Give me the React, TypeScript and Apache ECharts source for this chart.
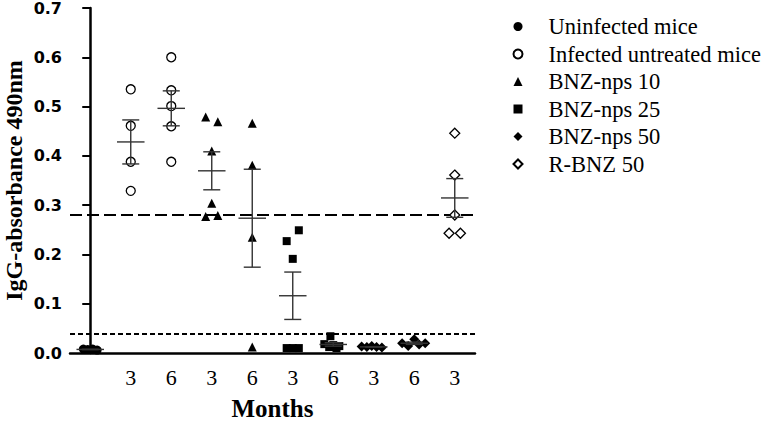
import React, { useEffect, useRef } from 'react';
import * as echarts from 'echarts';

// ---- data ----
const categories = ['', '3', '6', '3', '6', '3', '6', '3', '6', '3'];
const seriesNames = [
  'Uninfected mice',
  'Infected untreated mice',
  'BNZ-nps 10',
  'BNZ-nps 25',
  'BNZ-nps 50',
  'R-BNZ 50',
];
const cutoffHigh = 0.28;
const cutoffLow = 0.04;

const uninfectedValues = [0.008, 0.007, 0.008, 0.006];
const uninfectedJitter = [-0.17, -0.06, 0.06, 0.17];

const infected3Values = [0.535, 0.461, 0.388, 0.329];
const infected3Jitter = [0, 0, 0, 0];
const infected6Values = [0.6, 0.533, 0.501, 0.46, 0.388];
const infected6Jitter = [0, 0, 0, 0, 0];

const bnz10m3Values = [0.479, 0.469, 0.41, 0.304, 0.277, 0.279];
const bnz10m3Jitter = [-0.15, 0.15, 0, 0, -0.15, 0.15];
const bnz10m6Values = [0.466, 0.381, 0.235, 0.012];
const bnz10m6Jitter = [0, 0, 0, 0];

const bnz25m3Values = [0.227, 0.249, 0.191, 0.01, 0.01, 0.01];
const bnz25m3Jitter = [-0.15, 0.15, 0, -0.15, 0, 0.15];
const bnz25m6Values = [0.034, 0.018, 0.016, 0.014, 0.012, 0.01];
const bnz25m6Jitter = [-0.07, -0.22, 0.0, 0.15, -0.1, 0.08];

const bnz50m3Values = [0.013, 0.012, 0.014, 0.012, 0.011];
const bnz50m3Jitter = [-0.3, -0.17, -0.05, 0.07, 0.2];
const bnz50m6Values = [0.02, 0.014, 0.028, 0.017, 0.02];
const bnz50m6Jitter = [-0.3, -0.15, 0, 0.12, 0.27];

const rbnz3Values = [0.446, 0.361, 0.28, 0.243, 0.243];
const rbnz3Jitter = [0, 0, 0, -0.14, 0.14];

type Group = { series: number; pos: number; values: number[]; jitter: number[] };
const groups: Group[] = [
  { series: 0, pos: 0, values: uninfectedValues, jitter: uninfectedJitter },
  { series: 1, pos: 1, values: infected3Values, jitter: infected3Jitter },
  { series: 1, pos: 2, values: infected6Values, jitter: infected6Jitter },
  { series: 2, pos: 3, values: bnz10m3Values, jitter: bnz10m3Jitter },
  { series: 2, pos: 4, values: bnz10m6Values, jitter: bnz10m6Jitter },
  { series: 3, pos: 5, values: bnz25m3Values, jitter: bnz25m3Jitter },
  { series: 3, pos: 6, values: bnz25m6Values, jitter: bnz25m6Jitter },
  { series: 4, pos: 7, values: bnz50m3Values, jitter: bnz50m3Jitter },
  { series: 4, pos: 8, values: bnz50m6Values, jitter: bnz50m6Jitter },
  { series: 5, pos: 9, values: rbnz3Values, jitter: rbnz3Jitter },
];

// ---- styles ----
const symbols = ['circle', 'circle', 'triangle', 'rect', 'diamond', 'diamond'];
const fills = ['#000', '#fff', '#000', '#000', '#000', '#fff'];
const sizes = [9, 9, 9, 8, 10, 10];
const serif = "'Liberation Serif', 'Times New Roman', serif";

function meanSem(v: number[]) {
  const n = v.length;
  const m = v.reduce((a, b) => a + b, 0) / n;
  const sd = Math.sqrt(v.reduce((a, b) => a + (b - m) * (b - m), 0) / (n - 1));
  return [m, sd / Math.sqrt(n)];
}

export default function App() {
  const ref = useRef<HTMLDivElement>(null);
  useEffect(() => {
    if (!ref.current) return;
    const chart = echarts.init(ref.current, undefined, { renderer: 'svg' });

    const scatterSeries = seriesNames.map((name, si) => ({
      name,
      type: 'scatter',
      xAxisIndex: 1,
      yAxisIndex: 0,
      symbol: symbols[si],
      symbolSize: sizes[si],
      itemStyle: {
        color: fills[si],
        borderColor: '#000',
        borderWidth: fills[si] === '#fff' ? 1.3 : 0,
        opacity: 1,
      },
      z: 3,
      data: groups
        .filter((g) => g.series === si)
        .flatMap((g) => g.values.map((v, i) => [g.pos + g.jitter[i], v])),
      ...(si === 0
        ? {
            markLine: {
              silent: true,
              symbol: 'none',
              label: { show: false },
              z: 2,
              data: [
                { yAxis: cutoffHigh, lineStyle: { color: '#000', width: 2, type: [12, 5] } },
                { yAxis: cutoffLow, lineStyle: { color: '#000', width: 2, type: [5, 3] } },
              ],
            },
          }
        : {}),
    }));

    const statData = groups.map((g) => {
      const [m, s] = meanSem(g.values);
      return [g.pos, m, s];
    });

    const option: any = {
      animation: false,
      backgroundColor: '#fff',
      grid: { left: 70, right: 287, top: 8, bottom: 68, containLabel: false, outerBoundsMode: 'none' },
      legend: {
        orient: 'vertical',
        left: 512.5,
        top: 15,
        padding: 0,
        itemWidth: 9,
        itemHeight: 9,
        itemGap: 4.5,
        textStyle: {
          fontFamily: serif,
          fontSize: 22.5,
          color: '#000',
          lineHeight: 23,
          padding: [0, 0, 0, 21],
        },
        data: seriesNames,
      },
      xAxis: [
        {
          type: 'category',
          data: categories,
          boundaryGap: true,
          name: 'Months',
          nameLocation: 'middle',
          nameGap: 43,
          nameMoveOverlap: false,
          nameTextStyle: { fontFamily: serif, fontSize: 25, fontWeight: 'bold', color: '#000' },
          axisLine: { lineStyle: { color: '#000', width: 2.5 } },
          axisTick: { alignWithLabel: true, length: 9, lineStyle: { color: '#000', width: 2 } },
          axisLabel: { fontFamily: serif, fontSize: 22, color: '#000', margin: 13 },
          splitLine: { show: false },
        },
        {
          type: 'value',
          show: false,
          min: -0.5,
          max: 9.5,
          splitLine: { show: false },
        },
      ],
      yAxis: {
        type: 'value',
        min: 0,
        max: 0.7,
        interval: 0.1,
        name: 'IgG-absorbance 490nm',
        nameLocation: 'middle',
        nameGap: 44,
        nameMoveOverlap: false,
        nameTextStyle: { fontFamily: serif, fontSize: 24, fontWeight: 'bold', color: '#000' },
        axisLine: { show: true, lineStyle: { color: '#000', width: 2.5 } },
        axisTick: { show: true, length: 8, lineStyle: { color: '#000', width: 2 } },
        axisLabel: {
          fontFamily: "'DejaVu Sans', sans-serif",
          fontWeight: 'bold',
          fontSize: 16,
          color: '#000',
          margin: 8,
          formatter: (v: number) => v.toFixed(1),
        },
        splitLine: { show: false },
      },
      series: [
        ...scatterSeries,
        {
          type: 'custom',
          xAxisIndex: 1,
          yAxisIndex: 0,
          z: 4,
          silent: true,
          data: statData,
          renderItem: (params: any, api: any) => {
            const x = api.value(0);
            const m = api.value(1);
            const s = api.value(2);
            const unit = api.size([1, 0])[0];
            const pm = api.coord([x, m]);
            const pt = api.coord([x, m + s]);
            const pb = api.coord([x, m - s]);
            const hw = unit * 0.34;
            const cw = unit * 0.21;
            const style = { stroke: '#333', lineWidth: 1.4 };
            return {
              type: 'group',
              children: [
                { type: 'line', shape: { x1: pm[0] - hw, y1: pm[1], x2: pm[0] + hw, y2: pm[1] }, style },
                { type: 'line', shape: { x1: pt[0], y1: pt[1], x2: pb[0], y2: pb[1] }, style },
                { type: 'line', shape: { x1: pt[0] - cw, y1: pt[1], x2: pt[0] + cw, y2: pt[1] }, style },
                { type: 'line', shape: { x1: pb[0] - cw, y1: pb[1], x2: pb[0] + cw, y2: pb[1] }, style },
              ],
            };
          },
        },
      ],
    };
    chart.setOption(option);
    return () => chart.dispose();
  }, []);
  return (
    <div
      ref={ref}
      style={{ position: 'fixed', left: 0, top: 0, width: 762, height: 421, background: '#fff' }}
    />
  );
}
